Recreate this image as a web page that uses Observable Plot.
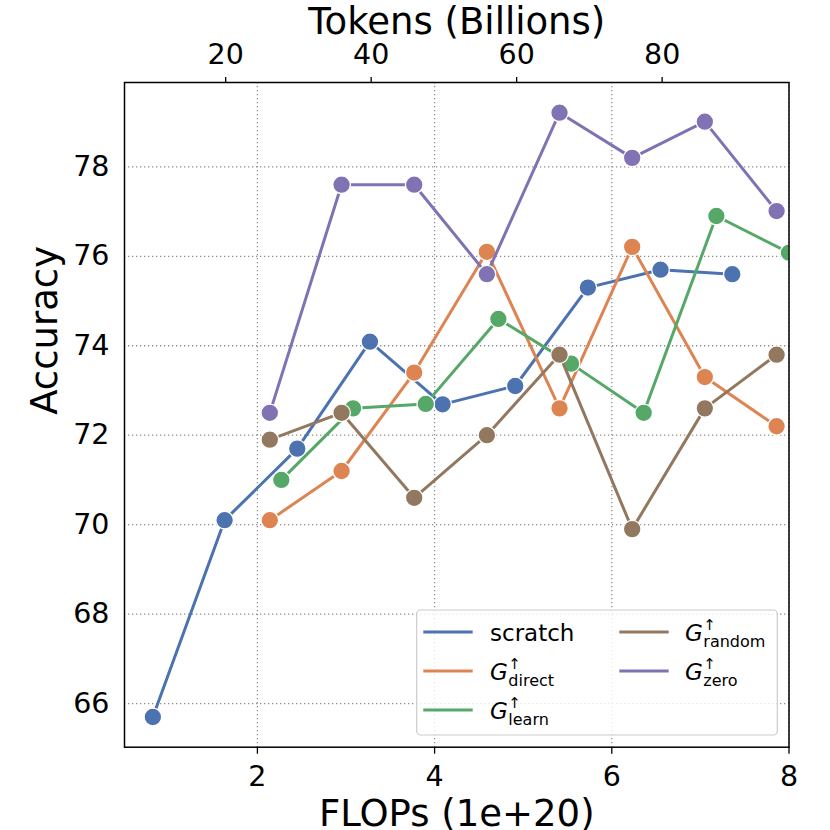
<!DOCTYPE html>
<html><head><meta charset="utf-8">
<script src="https://cdn.jsdelivr.net/npm/d3@7"></script>
<script src="https://cdn.jsdelivr.net/npm/@observablehq/plot@0.6"></script>
<style>html,body{margin:0;padding:0;background:#fff;} #chart{width:830px;height:830px;position:relative;}</style>
</head><body><div id="chart"></div>
<script>
// ---- data ----
const seriesNames = ["scratch", "direct", "learn", "random", "zero"];
const seriesColors = ["#4C72B0", "#DD8452", "#55A868", "#937860", "#8172B3"];

const scratchFlops = [0.82, 1.63, 2.45, 3.27, 4.09, 4.91, 5.73, 6.55, 7.36];
const scratchAcc   = [65.70, 70.10, 71.70, 74.09, 72.69, 73.10, 75.30, 75.70, 75.60];

const directFlops  = [2.14, 2.95, 3.77, 4.59, 5.41, 6.23, 7.05, 7.86];
const directAcc    = [70.10, 71.20, 73.40, 76.10, 72.60, 76.21, 73.30, 72.20];

const learnFlops   = [2.27, 3.08, 3.90, 4.72, 5.54, 6.36, 7.18, 8.00];
const learnAcc     = [71.00, 72.60, 72.70, 74.60, 73.60, 72.50, 76.90, 76.08];

const randomFlops  = [2.14, 2.95, 3.77, 4.59, 5.41, 6.23, 7.05, 7.86];
const randomAcc    = [71.90, 72.50, 70.60, 72.00, 73.80, 69.90, 72.60, 73.80];

const zeroFlops    = [2.14, 2.95, 3.77, 4.59, 5.41, 6.23, 7.05, 7.86];
const zeroAcc      = [72.50, 77.60, 77.60, 75.60, 79.21, 78.20, 79.01, 77.01];

const yTicks = [66, 68, 70, 72, 74, 76, 78];
const xTicks = [2, 4, 6, 8];
const tokenTicks = [20, 40, 60, 80];
const flopsPerBillionTokens = 0.0821; // secondary (top) axis conversion
const xDomain = [0.5, 8];
const yDomain = [65.025, 79.885];

// ---- table ----
const rows = [];
function addRows(name, xs, ys) { xs.forEach((x, i) => rows.push({series: name, flops: x, acc: ys[i]})); }
addRows("scratch", scratchFlops, scratchAcc);
addRows("direct", directFlops, directAcc);
addRows("learn", learnFlops, learnAcc);
addRows("random", randomFlops, randomAcc);
addRows("zero", zeroFlops, zeroAcc);

const gridStyle = {stroke: "#8c8c8c", strokeOpacity: 1, strokeWidth: 1.3, strokeDasharray: "1.3,2.7"};
const FONT = "DejaVu Sans";
const TICK_FS = 28.5;

const marks = [
  Plot.gridY(yTicks, gridStyle),
  Plot.gridX(xTicks, gridStyle)
];
for (const name of seriesNames) {
  const d = rows.filter(r => r.series === name);
  marks.push(Plot.line(d, {x: "flops", y: "acc", stroke: "series", strokeWidth: 3, clip: true}));
  marks.push(Plot.dot(d, {x: "flops", y: "acc", fill: "series", stroke: "white", strokeWidth: 1.3, r: 8.8, clip: true}));
}
marks.push(
  Plot.axisY(yTicks, {tickSize: 0, tickPadding: 15, fontSize: TICK_FS, label: null}),
  Plot.axisX(xTicks, {anchor: "bottom", tickSize: 7, tickPadding: 11.5, fontSize: TICK_FS, strokeWidth: 1.3, label: null}),
  Plot.axisX(tokenTicks.map(t => t * flopsPerBillionTokens), {
    anchor: "top", tickSize: 6, tickPadding: 12.7, fontSize: TICK_FS, strokeWidth: 1.3, label: null,
    tickFormat: d => String(Math.round(d / flopsPerBillionTokens))
  }),
  Plot.frame({stroke: "black", strokeWidth: 1.5}),
  Plot.text(["FLOPs (1e+20)"], {text: d => d, frameAnchor: "bottom", dy: 79, lineAnchor: "bottom", fontSize: 37}),
  Plot.text(["Tokens (Billions)"], {text: d => d, frameAnchor: "top", dy: -48.4, lineAnchor: "bottom", fontSize: 37}),
  Plot.text(["Accuracy"], {text: d => d, frameAnchor: "left", dx: -68, rotate: -90, lineAnchor: "bottom", fontSize: 37})
);

const chart = Plot.plot({
  width: 830,
  height: 830,
  marginLeft: 124,
  marginRight: 41.5,
  marginTop: 82,
  marginBottom: 83.3,
  style: {fontFamily: FONT, background: "white", color: "black", overflow: "visible"},
  x: {domain: xDomain},
  y: {domain: yDomain},
  color: {domain: seriesNames, range: seriesColors},
  marks
});
document.getElementById("chart").appendChild(chart);

// ---- legend (two columns, inside the axes, lower right) ----
const svg = d3.select(chart);
const lg = svg.append("g").attr("font-family", FONT).attr("text-anchor", "start").attr("fill", "black");
lg.append("rect")
  .attr("x", 416.7).attr("y", 610).attr("width", 360.6).attr("height", 125)
  .attr("rx", 4).attr("fill", "white").attr("fill-opacity", 0.8)
  .attr("stroke", "#cccccc").attr("stroke-width", 1.2);

const colX = [{line: 423.3, text: 490}, {line: 619.3, text: 685}];
const rowY = [632, 671, 710];
const layout = [[0, 0], [0, 1], [0, 2], [1, 0], [1, 1]]; // [col,row] for each series
seriesNames.forEach((name, i) => {
  const [c, r] = layout[i];
  const cx = colX[c], y = rowY[r];
  lg.append("line")
    .attr("x1", cx.line).attr("x2", cx.line + 49.4)
    .attr("y1", y).attr("y2", y)
    .attr("stroke", seriesColors[i]).attr("stroke-width", 3);
  const base = y + 8.6;
  if (name === "scratch") {
    lg.append("text").attr("x", cx.text).attr("y", base).attr("font-size", 23).text(name);
  } else {
    const g = lg.append("text").attr("x", cx.text).attr("y", base)
      .attr("font-size", 23).attr("font-style", "italic").text("G");
    const w = g.node().getComputedTextLength();
    lg.append("text").attr("x", cx.text + w + 0.5).attr("y", base - 10.5)
      .attr("font-size", 15).text("\u2191");
    lg.append("text").attr("x", cx.text + w + 0.5).attr("y", base + 6)
      .attr("font-size", 16).text(name);
  }
});
</script>
</body></html>
